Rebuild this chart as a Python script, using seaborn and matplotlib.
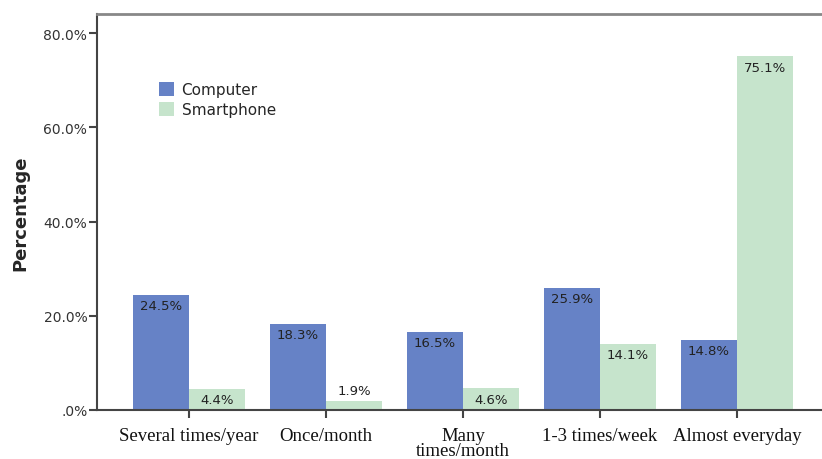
import matplotlib
matplotlib.use("Agg")
import matplotlib.pyplot as plt
import pandas as pd
import seaborn as sns

# Data
categories = ["Several times/year", "Once/month", "Many\ntimes/month",
              "1-3 times/week", "Almost everyday"]
computer = [24.5, 18.3, 16.5, 25.9, 14.8]
smartphone = [4.4, 1.9, 4.6, 14.1, 75.1]
devices = ["Computer", "Smartphone"]
colors = {"Computer": "#6682C6", "Smartphone": "#C6E4CC"}

df = pd.DataFrame({
    "category": categories * 2,
    "device": ["Computer"] * len(categories) + ["Smartphone"] * len(categories),
    "pct": computer + smartphone,
})

sns.set_style("ticks")
plt.rcParams["font.family"] = ["DejaVu Sans"]

fig = plt.figure(figsize=(8.22, 4.6), dpi=100)
ax = fig.add_axes([97 / 822, 1 - 411 / 460, 1 - 97 / 822, (411 - 15) / 460])

sns.barplot(data=df, x="category", y="pct", hue="device", order=categories,
            hue_order=devices, palette=colors, width=0.82, saturation=1,
            linewidth=0, ax=ax)

ax.set_ylim(0, 84.1)
ax.set_xlim(-0.67, 4.62)
ax.set_yticks([0, 20, 40, 60, 80])
ax.set_yticklabels([".0%", "20.0%", "40.0%", "60.0%", "80.0%"],
                   fontsize=10, color="#333333")
ax.set_xticks(range(len(categories)))
ax.set_xticklabels(categories, fontsize=13.5, family="Liberation Serif",
                   color="#111111", linespacing=0.9)
ax.tick_params(axis="both", direction="out", length=6, width=1.5, color="#444444")
ax.tick_params(axis="y", pad=1)
ax.tick_params(axis="x", pad=6)

ax.set_xlabel("")
ax.set_ylabel("Percentage", fontsize=13, fontweight="bold", labelpad=10)

for side in ["left", "bottom"]:
    ax.spines[side].set_color("#444444")
    ax.spines[side].set_linewidth(1.5)
ax.spines["top"].set_color("#888888")
ax.spines["top"].set_linewidth(2)
ax.spines["right"].set_visible(False)

# value labels: inside the top of the bar, or above it when the bar is too short
for cont in ax.containers:
    for patch, v in zip(cont.patches, cont.datavalues):
        x = patch.get_x() + patch.get_width() / 2
        h = patch.get_height()
        if v > 3:
            ax.annotate(f"{v:.1f}%", (x, h), xytext=(0, -3),
                        textcoords="offset points", ha="center", va="top",
                        fontsize=9.5, color="#222222")
        else:
            ax.annotate(f"{v:.1f}%", (x, h), xytext=(0, 3),
                        textcoords="offset points", ha="center", va="bottom",
                        fontsize=9.5, color="#222222")

leg = ax.legend(loc="upper left", bbox_to_anchor=(0.066, 0.862), frameon=False,
                fontsize=11, handlelength=1.0, handleheight=1.0,
                handletextpad=0.5, labelspacing=0.3)

fig.savefig("out.png", dpi=100)
